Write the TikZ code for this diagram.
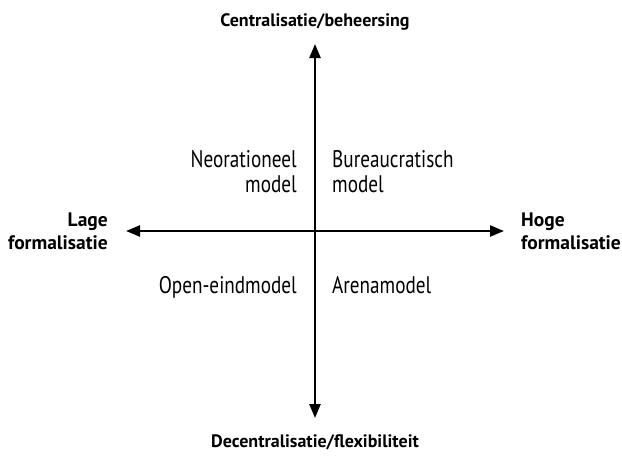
\documentclass[tikz,border=0pt]{standalone}
\usepackage{fontspec}
\setmainfont{PT Sans}
\newfontfamily\narrowsans[FakeStretch=0.8]{PT Sans}
\usetikzlibrary{arrows.meta}
\tikzstyle{axis}=[line width=2.4pt, {Triangle[length=14pt,width=11pt]}-{Triangle[length=14pt,width=11pt]}]
\tikzstyle{pole}=[font=\fontsize{18}{23}\selectfont\bfseries, align=center, inner sep=0pt]
\tikzstyle{side}=[pole, font=\fontsize{19.5}{23}\selectfont\bfseries]
\tikzstyle{model}=[font=\narrowsans\fontsize{24}{25}\selectfont, inner sep=0pt]

\begin{document}
\begin{tikzpicture}[x=1pt, y=-1pt]
                    \useasboundingbox (0,0) rectangle (622,459);
                    \coordinate (top) at (315, 44);
                    \coordinate (bottom) at (315, 418);
                    \coordinate (left) at (126, 231);
                    \coordinate (right) at (504, 231);
                    \draw[axis] (top)--(bottom);
                    \draw[axis] (left)--(right);
                    \node[pole, anchor=base] (central) at (315, 26) {Centralisatie/beheersing};
                    \node[pole, anchor=base] (decentral) at (315, 447) {Decentralisatie/flexibiliteit};
                    \node[side, align=right, anchor=east] (lage) at (108, 231) {Lage\\formalisatie};
                    \node[side, align=left, anchor=west] (hoge) at (521, 231) {Hoge\\formalisatie};
                    \node[model, align=right, anchor=east] (neo) at (297, 172) {Neorationeel\\model};
                    \node[model, align=left, anchor=west] (bureau) at (332, 172) {Bureaucratisch\\model};
                    \node[model, anchor=base east] (open) at (297, 293) {Open-eindmodel};
                    \node[model, anchor=base west] (arena) at (332, 293) {Arenamodel};
                \end{tikzpicture}
\end{document}
